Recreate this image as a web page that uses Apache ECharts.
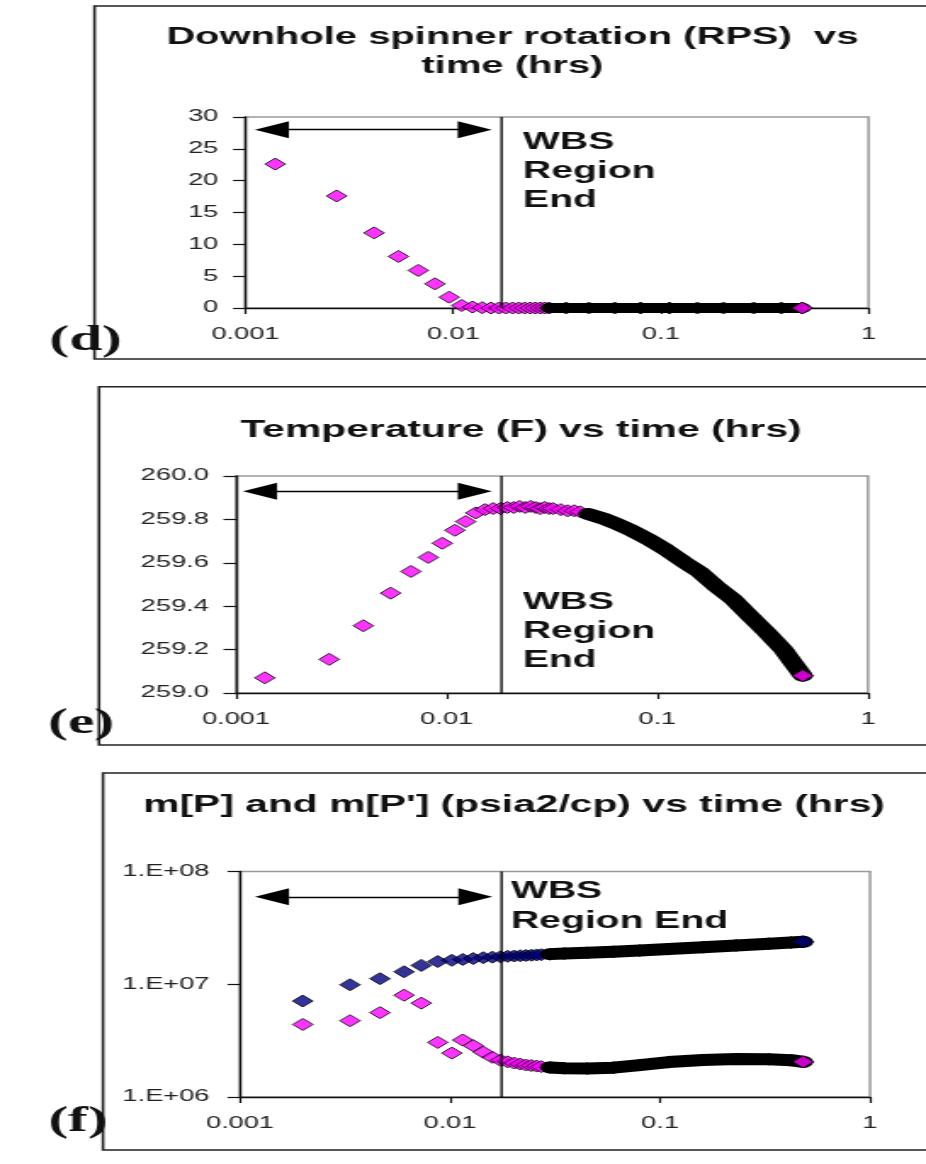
<!DOCTYPE html>
<html>
<head>
<meta charset="utf-8">
<script src="https://cdn.jsdelivr.net/npm/echarts@6/dist/echarts.min.js"></script>
<style>
  html, body { margin: 0; padding: 0; background: #fff; overflow: hidden; }
  /* the scanned figure is stretched sideways, so draw narrow and widen it */
  #chart { position: absolute; left: 0; top: 0; width: 545px; height: 1164px;
           transform-origin: 0 0; transform: scaleX(1.69908); }
</style>
</head>
<body>
<div id="chart"></div>
<script>
const K = 926 / 545;
const sx = (x) => x / K;

// (d) downhole spinner, RPS
const dTime = [0.00139, 0.00275, 0.00416, 0.00545, 0.00679, 0.00817, 0.00957, 0.0110, 0.0124, 0.0138,
  0.0152, 0.0166, 0.0179, 0.0193, 0.0207, 0.0221, 0.0235, 0.0248, 0.0262, 0.0276, 0.029,
  0.035, 0.045, 0.06, 0.08, 0.11, 0.15, 0.2, 0.28, 0.38, 0.48];
const dRps = [22.6, 17.6, 11.8, 8.1, 5.9, 3.8, 1.7, 0.4, 0.15, 0.05,
  0, 0, 0, 0, 0, 0, 0, 0, 0, 0, 0,
  0, 0, 0, 0, 0, 0, 0, 0, 0, 0];
const dYRange = [0, 30];
const dWbsEnd = 0.0171;
const dArrow = [0.00134, 0.0127, 28];
const dBandFrom = 0.028;

// (e) temperature, F
const eTime = [0.00137, 0.00277, 0.00402, 0.00542, 0.00677, 0.00818, 0.00953, 0.01094, 0.01231, 0.01374,
  0.0152, 0.0166, 0.018, 0.0194, 0.0208, 0.0222, 0.0236, 0.025, 0.0264, 0.0278,
  0.0292, 0.0306, 0.032, 0.0348, 0.0375, 0.0403, 0.043, 0.047, 0.055, 0.064,
  0.075, 0.092, 0.11, 0.133, 0.16, 0.191, 0.23, 0.275, 0.33, 0.396, 0.44, 0.49];
const eTemp = [259.07, 259.155, 259.31, 259.46, 259.56, 259.625, 259.69, 259.75, 259.79, 259.83,
  259.845, 259.85, 259.85, 259.855, 259.855, 259.86, 259.855, 259.86, 259.855, 259.85,
  259.855, 259.85, 259.85, 259.845, 259.84, 259.84, 259.835, 259.825, 259.805, 259.78,
  259.75, 259.705, 259.66, 259.605, 259.555, 259.49, 259.43, 259.355, 259.28, 259.2, 259.14, 259.08];
const eYRange = [259, 260];
const eWbsEnd = 0.0182;
const eArrow = [0.0013, 0.0136, 259.93];
const eBandFrom = 0.045;

// (f) m[P] and m[P'], psia2/cp
const fTime = [0.00199, 0.00334, 0.00464, 0.00604, 0.0073, 0.00875, 0.0102, 0.0115, 0.0129, 0.0144,
  0.0159, 0.0174, 0.0188, 0.0202, 0.0216, 0.023, 0.0244, 0.0258, 0.0272, 0.03,
  0.035, 0.045, 0.06, 0.08, 0.11, 0.16, 0.23, 0.33, 0.42, 0.48];
const fMP = [7.1e6, 9.9e6, 1.12e7, 1.29e7, 1.47e7, 1.59e7, 1.63e7, 1.66e7, 1.69e7, 1.72e7,
  1.74e7, 1.75e7, 1.77e7, 1.78e7, 1.79e7, 1.80e7, 1.81e7, 1.82e7, 1.83e7, 1.85e7,
  1.87e7, 1.90e7, 1.94e7, 1.99e7, 2.05e7, 2.13e7, 2.21e7, 2.29e7, 2.35e7, 2.38e7];
const fMPd = [4.4e6, 4.75e6, 5.6e6, 8.0e6, 6.8e6, 3.05e6, 2.45e6, 3.2e6, 2.85e6, 2.5e6,
  2.25e6, 2.12e6, 2.05e6, 2.0e6, 1.96e6, 1.92e6, 1.9e6, 1.88e6, 1.86e6, 1.83e6,
  1.8e6, 1.79e6, 1.82e6, 1.92e6, 2.04e6, 2.13e6, 2.17e6, 2.16e6, 2.12e6, 2.05e6];
const fYRange = [1e6, 1e8];
const fWbsEnd = 0.0176;
const fArrow = [0.00142, 0.0132, 5.96e7];
const fBandFrom = 0.028;

const SANS = '"Liberation Sans", Arial, sans-serif';
const SERIF = '"Liberation Serif", "Times New Roman", serif';
const MAGENTA = '#ff00ff';
const NAVY = '#000080';

const pairs = (t, v) => t.map((x, i) => [x, v[i]]);
const decade = (v) => Math.round(Math.log10(v));

const grids = [
  { left: sx(245.5), width: sx(868.5 - 245.5), top: 117, height: 191 },
  { left: sx(236), width: sx(868 - 236), top: 476, height: 217 },
  { left: sx(240), width: sx(870 - 240), top: 871.5, height: 225.5 },
].map((g) => ({ ...g, show: true, backgroundColor: '#fff', borderColor: '#9a9a9a', borderWidth: 1.5 }));

const axisLine = { show: true, lineStyle: { color: '#111', width: 1.4 } };
const label = { fontFamily: SANS, fontSize: 16, color: '#222' };

const xAxes = [0, 1, 2].map((i) => ({
  type: 'log', logBase: 10, gridIndex: i, min: 0.001, max: 1,
  axisLine, splitLine: { show: false },
  axisTick: { show: true, length: 6, lineStyle: { color: '#111', width: 1.2 } },
  axisLabel: { ...label, margin: 19,
    formatter: (v) => { const e = decade(v); return e === 0 ? '1' : Math.pow(10, e).toFixed(-e); } },
}));

const yTick = { show: true, length: sx(12.5), lineStyle: { color: '#111', width: 1.2 } };
const yAxes = [
  { type: 'value', gridIndex: 0, min: dYRange[0], max: dYRange[1], interval: 5,
    axisLabel: { ...label, margin: 16 } },
  { type: 'value', gridIndex: 1, min: eYRange[0], max: eYRange[1], interval: 0.2,
    axisLabel: { ...label, margin: 16, formatter: (v) => v.toFixed(1) } },
  { type: 'log', logBase: 10, gridIndex: 2, min: fYRange[0], max: fYRange[1],
    axisLabel: { ...label, margin: 18, formatter: (v) => '1.E+0' + decade(v) } },
].map((a) => ({ ...a, axisLine, axisTick: yTick, splitLine: { show: false } }));

const quiet = { silent: true, emphasis: { disabled: true } };

// WBS end marker line plus the double-headed arrow over the WBS region
function guides(i, wbs, yRange, arrow) {
  const head = { symbol: 'triangle', symbolSize: [17, sx(34)] };
  return [
    { ...quiet, type: 'line', xAxisIndex: i, yAxisIndex: i, symbol: 'none', z: 6,
      lineStyle: { color: '#000', width: 1.3 },
      data: [[wbs, yRange[0]], [wbs, yRange[1]]] },
    { ...quiet, type: 'scatter', xAxisIndex: i, yAxisIndex: i, data: [], z: 6,
      markLine: {
        ...quiet, animation: false, symbol: 'none', label: { show: false },
        lineStyle: { color: '#000', width: 1.3, type: 'solid' },
        data: [[{ coord: [arrow[0], arrow[2]], ...head }, { coord: [arrow[1], arrow[2]], ...head }]],
      } },
  ];
}

// dense samples overlap into a black band; the last one stays visible on top
function markers(i, t, v, color, bandFrom, band) {
  const pts = pairs(t, v);
  const item = { color, borderColor: '#000', borderWidth: 1 };
  const common = { ...quiet, xAxisIndex: i, yAxisIndex: i };
  return [
    { ...common, type: 'scatter', symbol: 'diamond', symbolSize: 12, itemStyle: item, data: pts, z: 3 },
    { ...common, type: 'line', symbol: 'none', showSymbol: false,
      lineStyle: { color: '#000', width: band, cap: 'round', join: 'round' },
      data: pts.filter((p) => p[0] >= bandFrom), z: 4 },
    { ...common, type: 'scatter', symbol: 'diamond', symbolSize: 12, itemStyle: item,
      data: [pts[pts.length - 1]], z: 5 },
  ];
}

const texts = [
  { x: 512.4, y: 23.5, text: 'Downhole spinner rotation (RPS)  vs\ntime (hrs)', size: 23.5, lh: 29, va: 'top', align: 'center' },
  { x: 521, y: 430, text: 'Temperature (F) vs time (hrs)', size: 24, lh: 29, va: 'middle', align: 'center' },
  { x: 514, y: 805, text: "m[P] and m[P'] (psia2/cp) vs time (hrs)", size: 24, lh: 29, va: 'middle', align: 'center' },
  { x: 523, y: 128.2, text: 'WBS\nRegion\nEnd', size: 23, lh: 29, va: 'top', align: 'left' },
  { x: 522.7, y: 588.2, text: 'WBS\nRegion\nEnd', size: 23, lh: 29, va: 'top', align: 'left' },
  { x: 511, y: 876.7, text: 'WBS\nRegion End', size: 23, lh: 30, va: 'top', align: 'left' },
];
const tags = [
  { x: 85.6, y: 341, text: '(d)' },
  { x: 81, y: 724, text: '(e)' },
  { x: 78, y: 1122, text: '(f)' },
];
const frames = [[94.5, 6, 359], [99, 386.7, 745], [103, 773, 1150]];

const graphic = [
  ...frames.map(([x, top, bottom]) => ({
    type: 'rect', silent: true, z: 0,
    shape: { x: sx(x), y: top, width: 600, height: bottom - top },
    style: { fill: 'none', stroke: '#222', lineWidth: 1.6 },
  })),
  ...texts.map((t) => ({
    type: 'text', silent: true, z: 10, x: sx(t.x), y: t.y,
    style: { text: t.text, fontFamily: SANS, fontWeight: 'bold', fontSize: t.size, lineHeight: t.lh,
      fill: '#111', align: t.align, verticalAlign: t.va },
  })),
  ...tags.map((t) => ({
    type: 'text', silent: true, z: 10, x: sx(t.x), y: t.y,
    style: { text: t.text, fontFamily: SERIF, fontWeight: 'bold', fontSize: 35,
      fill: '#111', align: 'center', verticalAlign: 'middle' },
  })),
];

const chart = echarts.init(document.getElementById('chart'), null, { renderer: 'canvas' });
chart.setOption({
  animation: false,
  backgroundColor: '#fff',
  grid: grids,
  xAxis: xAxes,
  yAxis: yAxes,
  graphic,
  series: [
    ...markers(0, dTime, dRps, MAGENTA, dBandFrom, 10),
    ...guides(0, dWbsEnd, dYRange, dArrow),
    ...markers(1, eTime, eTemp, MAGENTA, eBandFrom, 12),
    ...guides(1, eWbsEnd, eYRange, eArrow),
    ...markers(2, fTime, fMP, NAVY, fBandFrom, 12),
    ...markers(2, fTime, fMPd, MAGENTA, fBandFrom, 12),
    ...guides(2, fWbsEnd, fYRange, fArrow),
  ],
});
</script>
</body>
</html>
